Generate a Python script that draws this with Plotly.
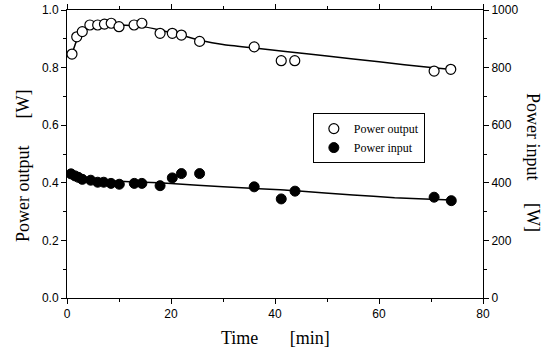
import plotly.graph_objects as go

# Power output (open circles) - left axis [W]
out_t = [0.96, 1.87, 2.94, 4.4, 5.9, 7.2, 8.5, 10.0, 12.9, 14.4, 17.9, 20.25, 22.0, 25.5, 36.0, 41.2, 43.8, 70.6, 73.8]
out_w = [0.847, 0.907, 0.925, 0.948, 0.948, 0.951, 0.954, 0.942, 0.948, 0.954, 0.919, 0.919, 0.913, 0.891, 0.872, 0.824, 0.824, 0.788, 0.794]

# Power input (filled circles) - right axis [W]
in_t = [0.77, 1.54, 2.17, 2.94, 4.56, 5.9, 7.06, 8.46, 10.06, 12.94, 14.4, 17.9, 20.25, 22.0, 25.5, 36.0, 41.2, 43.85, 70.6, 73.9]
in_w = [431, 424, 419, 412, 409, 402, 402, 398, 395, 398, 398, 390, 417, 432, 432, 386, 344, 371, 350, 338]

# Fitted curves
fit_out_t = [0.96, 2.0, 3.0, 4.5, 7, 10, 14, 18, 22, 26, 30, 36, 42, 50, 60, 70, 74]
fit_out_w = [0.847, 0.900, 0.922, 0.938, 0.947, 0.948, 0.944, 0.930, 0.912, 0.893, 0.880, 0.868, 0.856, 0.840, 0.820, 0.800, 0.793]

fit_in_t = [0.77, 3, 6, 10, 15, 20, 30, 41, 44, 55, 63, 70, 74]
fit_in_w = [436, 420, 410, 405, 402, 398, 386, 376, 372, 358, 348, 343, 340]

x_ticks = [0, 20, 40, 60, 80]
yl_ticks = [0.0, 0.2, 0.4, 0.6, 0.8, 1.0]
yr_ticks = [0, 200, 400, 600, 800, 1000]

fig = go.Figure()
fig.add_trace(go.Scatter(x=fit_out_t, y=fit_out_w, mode="lines",
                         line=dict(color="black", width=1.5, shape="spline", smoothing=0.6),
                         showlegend=False, hoverinfo="skip"))
fig.add_trace(go.Scatter(x=fit_in_t, y=fit_in_w, mode="lines",
                         line=dict(color="black", width=1.5, shape="spline", smoothing=0.6),
                         showlegend=False, hoverinfo="skip", yaxis="y2"))
fig.add_trace(go.Scatter(x=out_t, y=out_w, mode="markers", name="Power output",
                         marker=dict(symbol="circle", size=10, color="white", line=dict(color="black", width=1.2))))
fig.add_trace(go.Scatter(x=in_t, y=in_w, mode="markers", name="Power input", yaxis="y2",
                         marker=dict(symbol="circle", size=10, color="black", line=dict(color="black", width=1))))

tickfont = dict(family="Liberation Sans, Arial", size=12, color="black")
axis_common = dict(showline=True, linecolor="black", linewidth=1, showgrid=False, zeroline=False, automargin=False,
                   ticks="outside", ticklen=5, tickwidth=1, tickcolor="black", tickfont=tickfont,
                   ticklabeloverflow="allow")

fig.update_layout(
    width=549, height=353,
    margin=dict(l=67, r=66, t=10, b=55, autoexpand=False),
    plot_bgcolor="white", paper_bgcolor="white",
    xaxis=dict(range=[0, 80], tickvals=x_ticks, ticktext=[str(v) for v in x_ticks], mirror="ticks",
               minor=dict(dtick=10, ticklen=3, ticks="outside", tickcolor="black"), **axis_common),
    yaxis=dict(range=[0, 1.0], tickvals=yl_ticks, ticktext=["%.1f" % v for v in yl_ticks],
               minor=dict(dtick=0.1, ticklen=3, ticks="outside", tickcolor="black"), **axis_common),
    yaxis2=dict(range=[0, 1000], tickvals=yr_ticks, ticktext=[str(v) for v in yr_ticks], overlaying="y", side="right",
                minor=dict(dtick=100, ticklen=3, ticks="outside", tickcolor="black"), **axis_common),
    legend=dict(x=0.591, y=0.642, xanchor="left", yanchor="top", bgcolor="white", bordercolor="black", borderwidth=1,
                font=dict(family="Liberation Serif, Times New Roman", size=12, color="black"),
                tracegroupgap=0, itemwidth=30),
    showlegend=True,
)

serif = dict(family="Liberation Serif, Times New Roman", size=18, color="black")
fig.add_annotation(text="Time\u00a0\u00a0\u00a0\u00a0\u00a0\u00a0\u00a0[min]", xref="paper", yref="paper",
                   x=0.5, y=-(338 - 298) / 288, yanchor="middle", showarrow=False, font=serif)
fig.add_annotation(text="Power output\u00a0\u00a0\u00a0\u00a0\u00a0\u00a0[W]", xref="paper", yref="paper",
                   x=-(67 - 23) / 416, y=(298 - 166) / 288, textangle=-90, xanchor="center", yanchor="middle",
                   showarrow=False, font=serif)
fig.add_annotation(text="Power input\u00a0\u00a0\u00a0\u00a0\u00a0[W]", xref="paper", yref="paper",
                   x=1 + (533 - 483) / 416, y=(298 - 162) / 288, textangle=90, xanchor="center", yanchor="middle",
                   showarrow=False, font=serif)

fig.write_html("out.html", config={"displayModeBar": False},
               post_script="document.body.style.margin='0';document.body.style.overflow='hidden';")
